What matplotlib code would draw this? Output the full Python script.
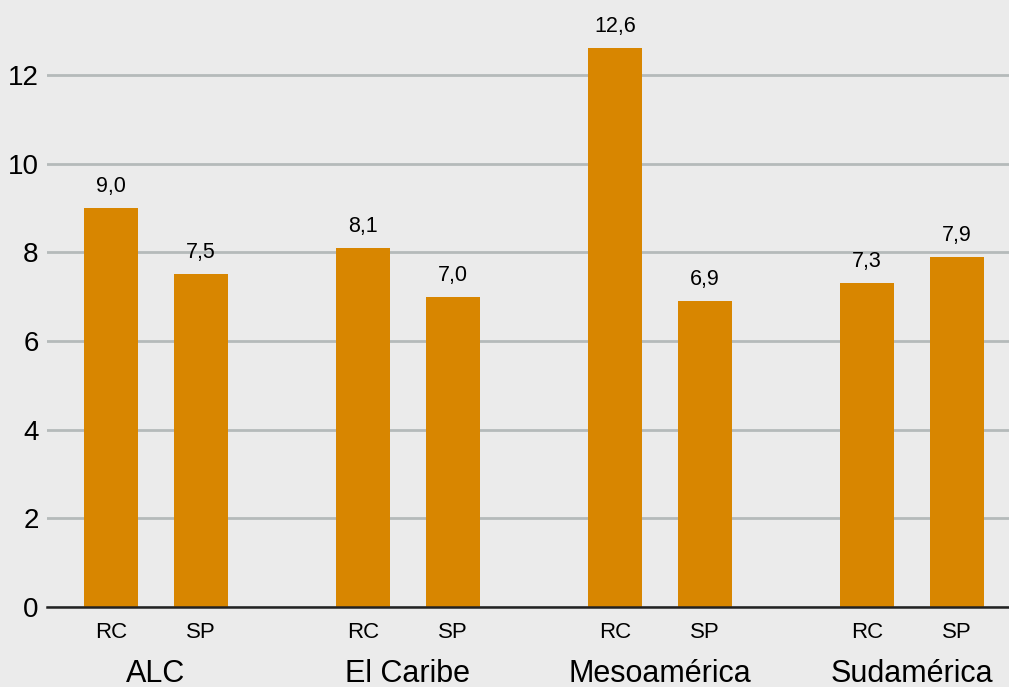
import matplotlib
matplotlib.use("Agg")
import matplotlib.pyplot as plt
import numpy as np

plt.rcParams['font.family'] = ['Liberation Sans', 'DejaVu Sans']

grupos = ["ALC", "El Caribe", "Mesoamérica", "Sudamérica"]
series = ["RC", "SP"]
rc = [9.0, 8.1, 12.6, 7.3]
sp = [7.5, 7.0, 6.9, 7.9]
yticks = [0, 2, 4, 6, 8, 10, 12]

fondo = "#ebebeb"
naranja = "#d88600"

fig = plt.figure(figsize=(10.09, 6.87), dpi=100, facecolor=fondo)
ax = fig.add_axes([47 / 1009, 80 / 687, 1 - 47 / 1009, 607 / 687])
ax.set_facecolor(fondo)

paso = 2.8
x0 = np.arange(len(grupos)) * paso
x_rc = x0
x_sp = x0 + 1
ancho = 0.6

b1 = ax.bar(x_rc, rc, width=ancho, color=naranja, zorder=3)
b2 = ax.bar(x_sp, sp, width=ancho, color=naranja, zorder=3)

# etiquetas de valor con coma decimal
for barras, vals in [(b1, rc), (b2, sp)]:
    for b, v in zip(barras, vals):
        ax.annotate(f"{v:.1f}".replace(".", ","), (b.get_x() + b.get_width() / 2, v),
                    xytext=(0, 8), textcoords="offset points",
                    ha="center", va="bottom", fontsize=15.5)

ax.set_xlim(-0.711, 9.978)
ax.set_ylim(0, 13.69)
ax.set_yticks(yticks)
ax.set_yticklabels([str(t) for t in yticks], fontsize=20)
ax.tick_params(axis="y", length=0, pad=6)
ax.yaxis.grid(True, color="#b5baba", linewidth=2, zorder=0)
ax.set_xticks([])
for s in ["top", "right", "left"]:
    ax.spines[s].set_visible(False)
ax.spines["bottom"].set_color("#222222")
ax.spines["bottom"].set_linewidth(1.8)
ax.spines["bottom"].set_zorder(4)

trans = ax.get_xaxis_transform()
for i, g in enumerate(grupos):
    ax.text(x_rc[i], -25 / 607, series[0], transform=trans, ha="center", va="center", fontsize=16)
    ax.text(x_sp[i], -25 / 607, series[1], transform=trans, ha="center", va="center", fontsize=16)
    ax.text((x_rc[i] + x_sp[i]) / 2, -67 / 607, g, transform=trans, ha="center", va="center", fontsize=22)

fig.savefig("out.png", dpi=100, facecolor=fondo)
